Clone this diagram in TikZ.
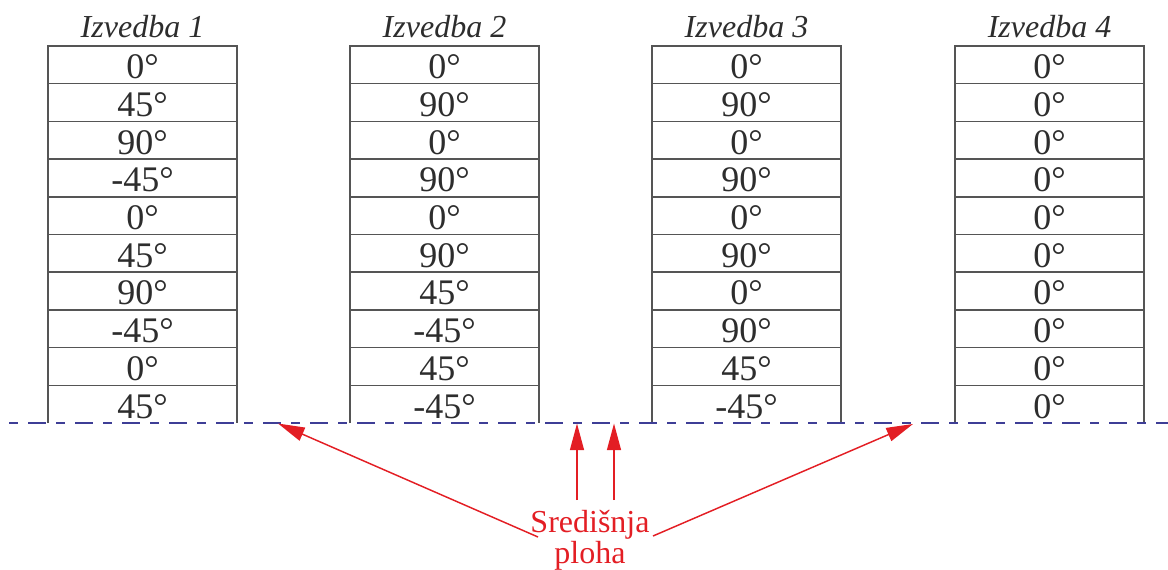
\documentclass[tikz,border=0pt]{standalone}
\usepackage{fontspec}
\setmainfont{Liberation Serif}
\usetikzlibrary{arrows.meta}
\definecolor{gridgray}{RGB}{85,85,85}
\definecolor{txtgray}{RGB}{45,45,45}
\definecolor{midblue}{RGB}{62,62,150}
\definecolor{arrred}{RGB}{227,30,36}
\begin{document}
\begin{tikzpicture}[x=0.75pt,y=-0.75pt,
  cell/.style={inner sep=0pt,outer sep=0pt,minimum width=141.75pt,minimum height=28.275pt,
    text height=20.8pt,text depth=0pt,text=txtgray,font=\fontsize{27}{29}\selectfont},
  gridline/.style={draw=gridgray,line width=1.1pt},
  title/.style={inner sep=0pt,text=txtgray,font=\fontsize{24}{26}\selectfont\itshape},
  midline/.style={draw=midblue,line width=1.3pt,dash pattern=on 6.75pt off 7.5pt on 13.5pt off 7.5pt},
  lbl/.style={inner sep=0pt,text=arrred,align=center,font=\fontsize{24}{23.3}\selectfont},
  redarrow/.style={draw=arrred,line width=1.1pt,-{Triangle[length=20pt,width=10.5pt]}}]
\useasboundingbox (0,0) rectangle (1168,569);
\foreach \s/\xc/\angles in {
  1/142.5/{0,45,90,-45,0,45,90,-45,0,45},
  2/444.5/{0,90,0,90,0,90,45,-45,45,-45},
  3/746.5/{0,90,0,90,0,90,0,90,45,-45},
  4/1049.5/{0,0,0,0,0,0,0,0,0,0}}{
  \foreach \v [count=\k] in \angles {
    \node[cell] (s\s-\k) at (\xc,{46+37.7*(\k-0.5)}) {\v°};
  }
  \draw[gridline] (s\s-10.south west) -- (s\s-1.north west) -- (s\s-1.north east) -- (s\s-10.south east);
  \foreach \k in {1,...,9}{
    \draw[gridline] (s\s-\k.south west) -- (s\s-\k.south east);
  }
  \node[title,anchor=base,yshift=6.75pt] (t\s) at (s\s-1.north) {Izvedba \s};
}
\coordinate (ml) at (9,423);
\coordinate (mr) at (1168,423);
\draw[midline] (ml) -- (mr);
\node[lbl] (sp) at (590,540) {Središnja\\ploha};
\coordinate (a1s) at (538,537);
\coordinate (a1e) at (278,423.5);
\coordinate (a2s) at (577,500);
\coordinate (a2e) at (577,423.5);
\coordinate (a3s) at (614,500);
\coordinate (a3e) at (614,423.5);
\coordinate (a4s) at (653,536);
\coordinate (a4e) at (913,424);
\draw[redarrow] (a1s) -- (a1e);
\draw[redarrow] (a2s) -- (a2e);
\draw[redarrow] (a3s) -- (a3e);
\draw[redarrow] (a4s) -- (a4e);
\end{tikzpicture}
\end{document}
